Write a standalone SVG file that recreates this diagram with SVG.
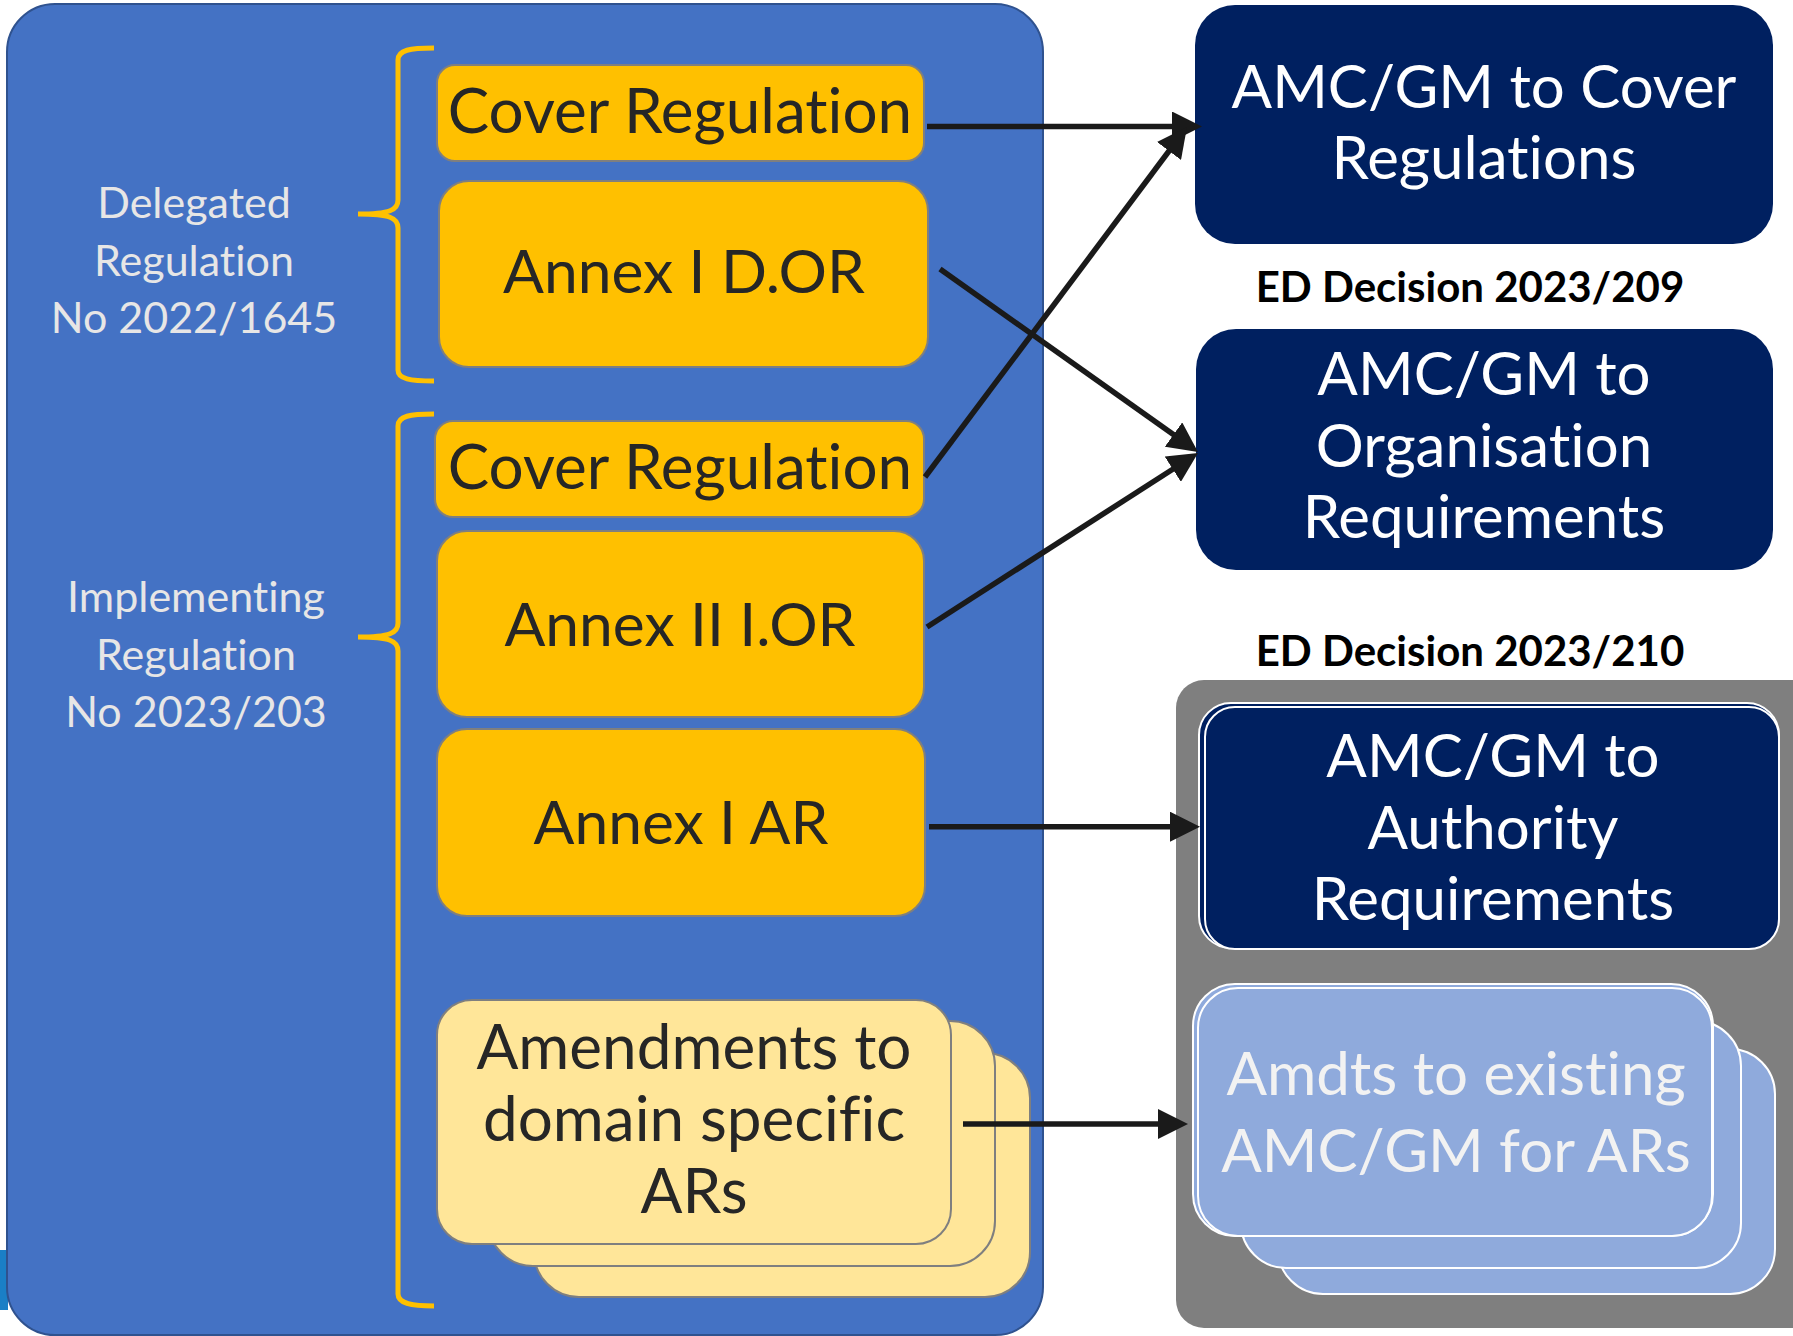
<svg xmlns="http://www.w3.org/2000/svg" width="1793" height="1336" viewBox="0 0 1793 1336">
<defs>
<style>
text{font-variant-ligatures:none;font-feature-settings:"liga" 0,"clig" 0}
.big{font-family:Lato,"Open Sans","DejaVu Sans",sans-serif;font-size:60px;text-anchor:middle}
.ybig{font-size:62px}
.abig{font-size:60.5px}
.dark{fill:#262626}
.white{fill:#ffffff}
.lbl{font-family:Lato,"Open Sans","DejaVu Sans",sans-serif;font-size:43px;text-anchor:middle;fill:#e7e6e6}
.ed{font-family:Lato,"Open Sans","DejaVu Sans",sans-serif;font-size:42px;font-weight:bold;text-anchor:middle;fill:#000}
.yel{fill:#ffc000;stroke:#7f7f7f;stroke-width:2}
.pale{fill:#ffe699;stroke:#7f7f7f;stroke-width:2}
.navy{fill:#002060}
.navyw{fill:#002060;stroke:#ffffff;stroke-width:2}
.lblue{fill:#8faadc;stroke:#ffffff;stroke-width:2}
.brace{fill:none;stroke:#ffc000;stroke-width:5}
.conn{stroke:#1a1a1a;stroke-width:5.5;fill:none;marker-end:url(#ah)}
</style>
<marker id="ah" viewBox="0 0 30 30" refX="5" refY="15" markerWidth="30" markerHeight="30" markerUnits="userSpaceOnUse" orient="auto">
<path d="M0,0 L30,15 L0,30 z" fill="#1a1a1a"/>
</marker>
</defs>
<rect x="0" y="0" width="1793" height="1336" fill="#ffffff"/>
<rect x="0" y="1250" width="8" height="60" fill="#1a7fc6"/>
<g id="regulations-container">
<rect x="7" y="4" width="1036" height="1331" rx="48" fill="#4472c4" stroke="#2f528f" stroke-width="2"/>
</g>
<g id="delegated-label">
<path class="brace" d="M434,48 C410,48 398,50 398,60 L398,200 C398,210 390,214 358,214 C390,214 398,218 398,228 L398,370 C398,379 410,381 434,381"/>
<text class="lbl" x="194" y="218">Delegated</text>
<text class="lbl" x="194" y="276">Regulation</text>
<text class="lbl" x="194" y="333">No 2022/1645</text>
</g>
<g id="implementing-label">
<path class="brace" d="M434,414 C410,414 398,416 398,426 L398,623 C398,633 390,637 358,637 C390,637 398,641 398,651 L398,1294 C398,1303 410,1306 434,1306"/>
<text class="lbl" x="196" y="612">Implementing</text>
<text class="lbl" x="196" y="670">Regulation</text>
<text class="lbl" x="196" y="727">No 2023/203</text>
</g>
<g id="cover-regulation-1">
<rect class="yel" x="437" y="65" width="487" height="96" rx="18"/>
<text class="big ybig dark" x="680" y="133">Cover Regulation</text>
</g>
<g id="annex-i-dor">
<rect class="yel" x="439" y="181" width="489" height="186" rx="30"/>
<text class="big abig dark" x="684" y="293">Annex I D.OR</text>
</g>
<g id="cover-regulation-2">
<rect class="yel" x="435" y="421" width="489" height="96" rx="18"/>
<text class="big ybig dark" x="680" y="489">Cover Regulation</text>
</g>
<g id="annex-ii-ior">
<rect class="yel" x="437" y="531" width="487" height="186" rx="30"/>
<text class="big abig dark" x="680" y="646">Annex II I.OR</text>
</g>
<g id="annex-i-ar">
<rect class="yel" x="437" y="729" width="488" height="187" rx="30"/>
<text class="big abig dark" x="681" y="844">Annex I AR</text>
</g>
<g id="amendments-ars">
<rect class="pale" x="534" y="1053" width="496" height="244" rx="45"/>
<rect class="pale" x="488" y="1021" width="507" height="245" rx="45"/>
<rect class="pale" x="437" y="1000" width="514" height="244" rx="35"/>
<text class="big ybig dark" x="694" y="1069">Amendments to</text>
<text class="big ybig dark" x="694" y="1141">domain specific</text>
<text class="big ybig dark" x="694" y="1213">ARs</text>
</g>
<g id="amc-cover">
<rect class="navy" x="1195" y="5" width="578" height="239" rx="40"/>
<text class="big white" x="1484" y="108">AMC/GM to Cover</text>
<text class="big white" x="1484" y="179">Regulations</text>
</g>
<g id="ed-209">
<text class="ed" x="1470" y="302">ED Decision 2023/209</text>
</g>
<g id="amc-organisation">
<rect class="navy" x="1196" y="329" width="577" height="241" rx="40"/>
<text class="big white" x="1484" y="395">AMC/GM to</text>
<text class="big white" x="1484" y="467">Organisation</text>
<text class="big white" x="1484" y="538">Requirements</text>
</g>
<g id="ed-210">
<text class="ed" x="1470" y="666">ED Decision 2023/210</text>
<rect x="1176" y="680" width="650" height="648" rx="28" fill="#7f7f7f"/>
</g>
<g id="amc-authority">
<rect class="navyw" x="1199" y="703" width="580" height="245" rx="32"/>
<rect class="navyw" x="1205" y="707" width="574" height="242" rx="30"/>
<text class="big white" x="1493" y="777">AMC/GM to</text>
<text class="big white" x="1493" y="849">Authority</text>
<text class="big white" x="1493" y="920">Requirements</text>
</g>
<g id="amdts-amc-ars">
<rect class="lblue" x="1278" y="1049" width="497" height="245" rx="45"/>
<rect class="lblue" x="1241" y="1021" width="500" height="247" rx="45"/>
<rect class="lblue" x="1193" y="984" width="520" height="252" rx="42"/>
<rect class="lblue" x="1198" y="988" width="514" height="248" rx="40"/>
<text class="big" x="1456" y="1095" fill="#f2f2f2" font-size="59">Amdts to existing</text>
<text class="big" x="1456" y="1172" fill="#f2f2f2" font-size="59">AMC/GM for ARs</text>
</g>
<g id="connectors">
<line class="conn" x1="927" y1="126.5" x2="1177" y2="126.5"/>
<line class="conn" x1="940" y1="269" x2="1177.6" y2="437.5"/>
<line class="conn" x1="925" y1="477" x2="1172" y2="147"/>
<line class="conn" x1="927" y1="627" x2="1177" y2="466.5"/>
<line class="conn" x1="929" y1="826.7" x2="1175" y2="826.7"/>
<line class="conn" x1="963" y1="1124" x2="1163" y2="1124"/>
</g>
</svg>
